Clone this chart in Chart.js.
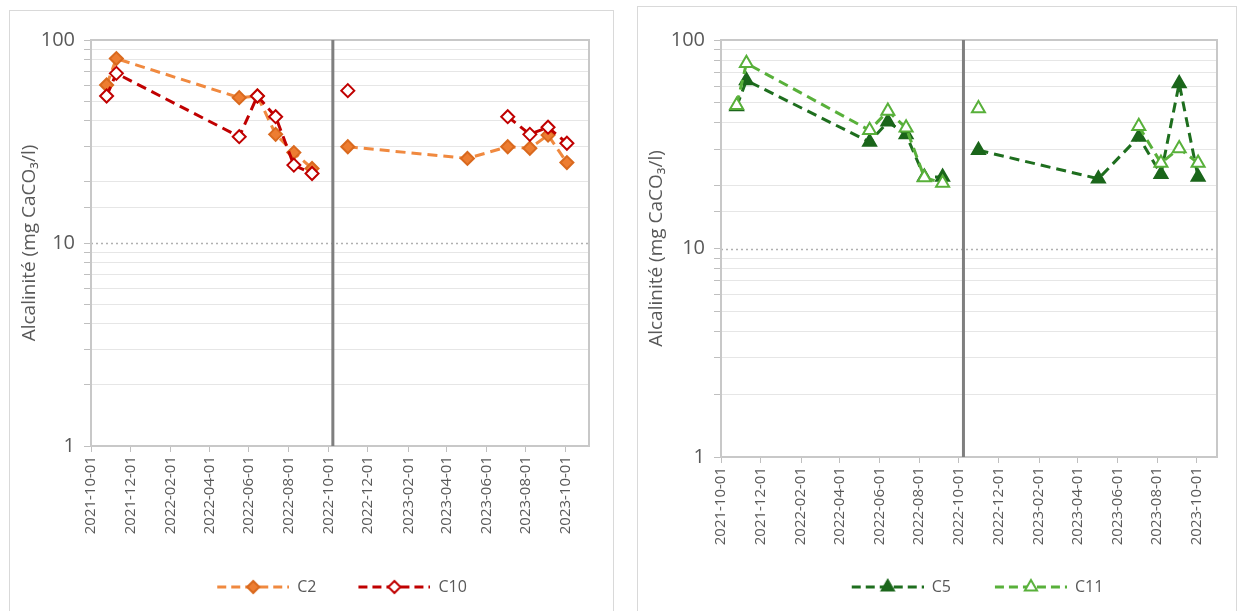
<!DOCTYPE html>
<html>
<head>
<meta charset="utf-8">
<title>Alcalinité</title>
<script src="https://cdn.jsdelivr.net/npm/chart.js@4.4.1/dist/chart.umd.min.js"></script>
<style>
    body { margin: 0; background: #fff; width: 1238px; height: 611px; overflow: hidden; position: relative; }
    .panel { position: absolute; border: 1px solid #d9d9d9; background: #fff; }
    #p1 { left: 9px; top: 10px; width: 603px; height: 620px; }
    #p2 { left: 637px; top: 6px; width: 598px; height: 620px; }
    canvas { position: absolute; top: 0; }
    #c1 { left: 0; }
    #c2 { left: 632px; }
</style>
</head>
<body>
<div class="panel" id="p1"></div>
<div class="panel" id="p2"></div>
<canvas id="c1" width="630" height="611"></canvas>
<canvas id="c2" width="606" height="611"></canvas>

<script>
/* ---- data ---- */
const sampleDates = ["2021-10-25", "2021-11-09", "2022-05-17", "2022-06-14", "2022-07-12", "2022-08-09",
                     "2022-09-06", "2022-10-31", "2023-05-03", "2023-07-04", "2023-08-07", "2023-09-04", "2023-10-03"];

const c2  = [60, 81, 52, 53, 34.3, 27.9, 23.3, 29.8, 26.1, 29.8, 29.3, 34, 24.9];
const c10 = [53, 68.5, 33.4, 53, 41.9, 24.2, 22, 56.3, null, 41.9, 34.3, 37.2, 31];
const c5  = [48, 64, 32.4, 40.5, 35.2, 22, 22, 29.6, 21.6, 34.3, 22.7, 61.9, 22];
const c11 = [48.7, 77.3, 36.9, 45.6, 37.9, 21.9, 20.6, 46.9, null, 38.6, 25.7, 30.2, 25.7];

const xTickLabels = ["2021-10-01", "2021-12-01", "2022-02-01", "2022-04-01", "2022-06-01", "2022-08-01", "2022-10-01",
                     "2022-12-01", "2023-02-01", "2023-04-01", "2023-06-01", "2023-08-01", "2023-10-01"];
const yTickLabels = [1, 10, 100];
const separatorDate = "2022-10-08";
const yTitle = "Alcalinité (mg CaCO₃/l)";

/* ---- helpers ---- */
const TEXT = "#595959";
const AXIS = "#bfbfbf";
Chart.defaults.font.family = "'Open Sans', sans-serif";
Chart.defaults.color = TEXT;

const day = s => Date.UTC(+s.slice(0, 4), +s.slice(5, 7) - 1, +s.slice(8, 10)) / 86400000;

// series points, with a break at the separator so the line is not drawn across it
function points(values) {
    const pts = sampleDates.map((d, i) => ({ x: day(d), y: values[i] }));
    pts.push({ x: day(separatorDate), y: null });
    return pts.sort((a, b) => a.x - b.x);
}

// legend sample: dashed line with the marker in the middle (blank margin on the left = extra item gap)
function legendIcon(s, margin) {
    const c = document.createElement("canvas");
    c.width = 72 + margin; c.height = 18;
    const ctx = c.getContext("2d");
    ctx.strokeStyle = s.line;
    ctx.lineWidth = 3;
    ctx.setLineDash([9, 5]);
    ctx.beginPath(); ctx.moveTo(margin, 9); ctx.lineTo(margin + 72, 9); ctx.stroke();
    ctx.setLineDash([]);
    ctx.fillStyle = s.fill;
    ctx.strokeStyle = s.stroke;
    ctx.lineWidth = 2;
    Chart.helpers.drawPoint(ctx, { pointStyle: s.marker, radius: s.radius - 0.5, borderWidth: 2, rotation: 0 }, margin + 36, 9);
    return c;
}

// plot frame + dotted gridline at 10
const framePlugin = {
    id: "frame",
    beforeDatasetsDraw(chart) {
        const { ctx, chartArea: a, scales: { y } } = chart;
        ctx.save();
        const y10 = Math.round(y.getPixelForValue(10)) + 0.5;
        ctx.strokeStyle = "#b0b0b0";
        ctx.lineWidth = 1.5;
        ctx.setLineDash([2, 3]);
        ctx.beginPath(); ctx.moveTo(a.left, y10); ctx.lineTo(a.right, y10); ctx.stroke();
        ctx.setLineDash([]);
        ctx.strokeStyle = "#c8c8c8";
        ctx.lineWidth = 2;
        ctx.strokeRect(a.left, a.top, a.right - a.left, a.bottom - a.top);
        ctx.restore();
    }
};

function makeChart(id, o) {
    const datasets = o.series.map((s, i) => ({
        label: s.label,
        data: points(s.values),
        order: o.series.length - i,
        borderColor: s.line,
        borderWidth: 3,
        borderDash: [10, 6],
        pointStyle: s.marker,
        pointRadius: s.radius,
        pointBackgroundColor: s.fill,
        pointBorderColor: s.stroke,
        pointBorderWidth: 2,
        tension: 0
    }));
    datasets.push({
        label: "",
        data: [{ x: day(separatorDate), y: 1 }, { x: day(separatorDate), y: 100 }],
        order: 99,
        borderColor: "#7f7f7f",
        borderWidth: 3,
        pointRadius: 0,
        clip: 6
    });
    const icons = o.series.map(s => legendIcon(s, o.iconMargin));

    return new Chart(document.getElementById(id), {
        type: "line",
        data: { datasets },
        options: {
            responsive: false,
            animation: false,
            events: [],
            layout: { padding: o.padding },
            plugins: {
                tooltip: { enabled: false },
                legend: {
                    position: "bottom",
                    fullSize: false,
                    labels: {
                        usePointStyle: true,
                        pointStyleWidth: 72 + o.iconMargin,
                        padding: o.legendPad,
                        color: TEXT,
                        font: { size: 16 },
                        generateLabels(chart) {
                            return Chart.defaults.plugins.legend.labels.generateLabels(chart)
                                .filter(it => it.text !== "")
                                .sort((a, b) => a.datasetIndex - b.datasetIndex)
                                .map(it => Object.assign(it, { pointStyle: icons[it.datasetIndex] }));
                        }
                    }
                }
            },
            scales: {
                x: {
                    type: "linear",
                    min: day(xTickLabels[0]),
                    max: day(o.xMax),
                    afterBuildTicks: sc => { sc.ticks = xTickLabels.map(d => ({ value: day(d) })); },
                    afterFit: sc => { sc.height = o.xHeight; },
                    grid: { drawOnChartArea: false, tickLength: 6, tickColor: AXIS, color: AXIS },
                    border: { color: AXIS, width: 2 },
                    ticks: {
                        autoSkip: false,
                        minRotation: 90,
                        maxRotation: 90,
                        padding: 4,
                        color: TEXT,
                        font: { size: 15 },
                        callback: (v, i) => xTickLabels[i]
                    }
                },
                y: {
                    type: "logarithmic",
                    min: 1,
                    max: 100,
                    afterFit: sc => { sc.width = o.yWidth; },
                    grid: {
                        color: c => (c.tick && c.tick.value === 10) ? "rgba(0,0,0,0)" : "#e6e6e6",
                        tickColor: AXIS,
                        tickLength: 7,
                        lineWidth: 1
                    },
                    border: { color: AXIS, width: 2 },
                    title: { display: true, text: yTitle, color: TEXT, font: { size: 19 } },
                    ticks: {
                        autoSkip: false,
                        padding: 9,
                        color: TEXT,
                        font: { size: 20 },
                        callback: v => yTickLabels.includes(v) ? String(v) : ""
                    }
                }
            }
        },
        plugins: [framePlugin]
    });
}

/* ---- charts ---- */
makeChart("c1", {
    series: [
        { label: "C2",  values: c2,  line: "#F0893F", fill: "#ED7D31", stroke: "#D9691E", marker: "rectRot", radius: 6.5 },
        { label: "C10", values: c10, line: "#C00000", fill: "#ffffff", stroke: "#C00000", marker: "rectRot", radius: 6.5 }
    ],
    padding: { left: 14, right: 41, top: 40, bottom: 6 },
    yWidth: 77,
    xHeight: 95,
    legendPad: 38,
    iconMargin: 4,
    xMax: "2023-11-06"
});

makeChart("c2", {
    series: [
        { label: "C5",  values: c5,  line: "#1E6E1E", fill: "#1B661B", stroke: "#1B661B", marker: "triangle", radius: 7.5 },
        { label: "C11", values: c11, line: "#58B03A", fill: "#ffffff", stroke: "#58B03A", marker: "triangle", radius: 7.5 }
    ],
    padding: { left: 9, right: 21, top: 40, bottom: 6 },
    yWidth: 80,
    xHeight: 95,
    legendPad: 27,
    iconMargin: 17,
    xMax: "2023-11-01"
});
</script>
</body>
</html>
